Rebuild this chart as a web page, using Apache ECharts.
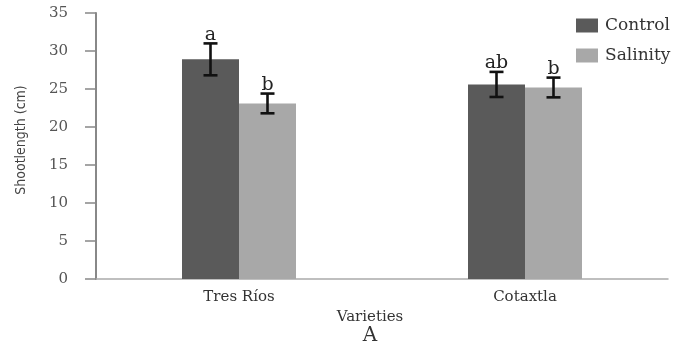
<!DOCTYPE html>
<html>
<head>
<meta charset="utf-8">
<script src="https://cdn.jsdelivr.net/npm/echarts@6/dist/echarts.min.js"></script>
<style>
  html, body { margin: 0; padding: 0; background: #fff; }
  #chart { width: 680px; height: 343px; }
</style>
</head>
<body>
<div id="chart"></div>
<script>
// Shoot length by variety under control and salinity treatments
const varieties = ['Tres Ríos', 'Cotaxtla'];
const controlMean = [28.9, 25.6];
const controlErr = [2.1, 1.65];
const controlLetters = ['a', 'ab'];
const salinityMean = [23.1, 25.2];
const salinityErr = [1.3, 1.3];
const salinityLetters = ['b', 'b'];
const yTicks = [0, 5, 10, 15, 20, 25, 30, 35];

const serif = '"DejaVu Serif", "Liberation Serif", serif';
const narrow = '"Liberation Sans Narrow", "DejaVu Sans Condensed", sans-serif';
const BAR_W = 57;

function errorSeries(name, means, errs, letters, offset) {
  return {
    name: name + ' error',
    type: 'custom',
    z: 10,
    data: means.map((m, i) => [i, m, errs[i]]),
    renderItem: function (params, api) {
      const idx = api.value(0);
      const mean = api.value(1);
      const err = api.value(2);
      const letter = letters[idx];
      const center = api.coord([idx, mean]);
      const x = center[0] + offset;
      const top = api.coord([idx, mean + err])[1];
      const bot = api.coord([idx, mean - err])[1];
      const cap = 7;
      const style = { stroke: '#111', lineWidth: 2.6 };
      return {
        type: 'group',
        children: [
          { type: 'line', shape: { x1: x, y1: top, x2: x, y2: bot }, style: style },
          { type: 'line', shape: { x1: x - cap, y1: top, x2: x + cap, y2: top }, style: style },
          { type: 'line', shape: { x1: x - cap, y1: bot, x2: x + cap, y2: bot }, style: style },
          {
            type: 'text',
            style: {
              text: letter, x: x, y: top + 1,
              align: 'center', verticalAlign: 'bottom',
              font: '19px ' + serif, fill: '#222'
            }
          }
        ]
      };
    }
  };
}

const chart = echarts.init(document.getElementById('chart'));
chart.setOption({
  animation: false,
  backgroundColor: '#fff',
  grid: { left: 96, right: 12, top: 13, bottom: 64, containLabel: false, outerBoundsMode: 'none' },
  legend: {
    orient: 'vertical',
    left: 571, top: 12,
    icon: 'rect',
    itemWidth: 22, itemHeight: 14, itemGap: 13,
    data: ['Control', 'Salinity'],
    textStyle: { fontFamily: serif, fontSize: 17, color: '#333', padding: [0, 0, 0, 2] }
  },
  xAxis: {
    type: 'category',
    data: varieties,
    axisLine: { lineStyle: { color: '#aaa', width: 1.5 } },
    axisTick: { show: false },
    axisLabel: { fontFamily: serif, fontSize: 15, color: '#333', margin: 11 },
    name: '{v|Varieties}\n{a|A}',
    nameLocation: 'middle',
    nameGap: 30,
    nameTextStyle: {
      padding: [0, 24, 0, 0],
      rich: {
        v: { fontFamily: serif, fontSize: 15, color: '#333', lineHeight: 17 },
        a: { fontFamily: serif, fontSize: 20, color: '#333', lineHeight: 20 }
      }
    }
  },
  yAxis: {
    type: 'value',
    min: 0, max: 35, interval: 5,
    name: 'Shootlength (cm)',
    nameLocation: 'middle',
    nameGap: 68,
    nameTextStyle: { fontFamily: narrow, fontSize: 14, color: '#444', padding: [0, 0, 0, 12] },
    axisLine: { show: true, lineStyle: { color: '#888', width: 2 } },
    axisTick: { show: true, length: 11, lineStyle: { color: '#888', width: 1.5 } },
    axisLabel: {
      fontFamily: serif, fontSize: 15, color: '#555', margin: 28,
      formatter: v => (yTicks.includes(v) ? String(v) : '')
    },
    splitLine: { show: false }
  },
  series: [
    {
      name: 'Control', type: 'bar', data: controlMean,
      barWidth: BAR_W, barGap: '0%',
      itemStyle: { color: '#5a5a5a' }
    },
    {
      name: 'Salinity', type: 'bar', data: salinityMean,
      barWidth: BAR_W, barGap: '0%',
      itemStyle: { color: '#a8a8a8' }
    },
    errorSeries('Control', controlMean, controlErr, controlLetters, -BAR_W / 2),
    errorSeries('Salinity', salinityMean, salinityErr, salinityLetters, BAR_W / 2)
  ]
});
</script>
</body>
</html>
